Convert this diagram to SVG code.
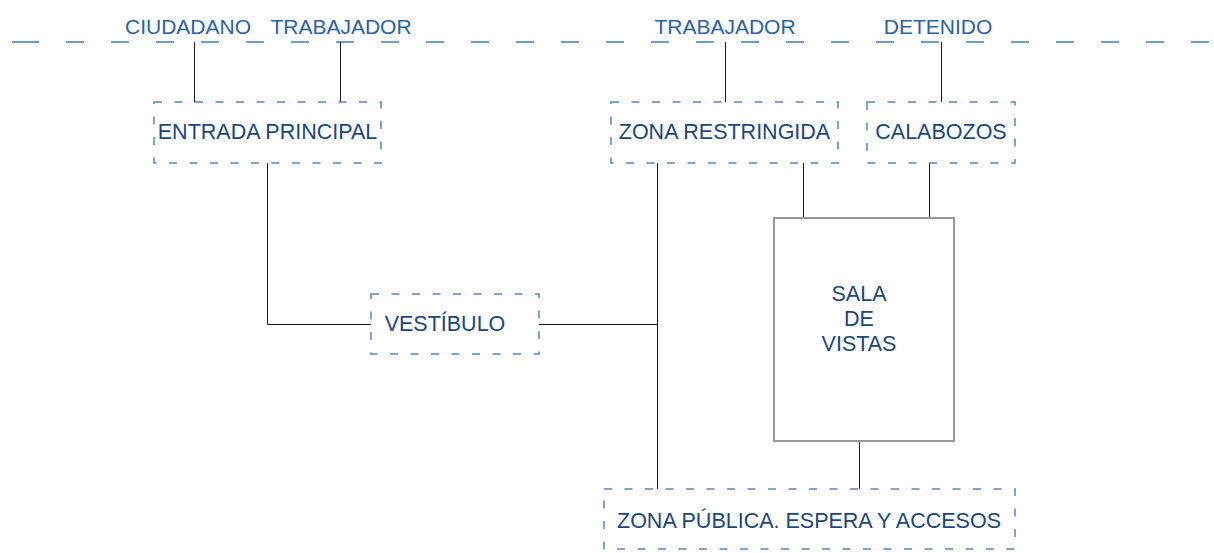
<svg xmlns="http://www.w3.org/2000/svg" width="1214" height="553" viewBox="0 0 1214 553">
<style>
.top{font-family:"Liberation Sans",Arial,sans-serif;font-size:21px;fill:#2a62a8;text-anchor:middle}
.lbl{font-family:"Liberation Sans",Arial,sans-serif;font-size:21.5px;fill:#1b4680;text-anchor:middle}
.dbox{fill:none;stroke:#5686c2;stroke-width:1.5;stroke-dasharray:8 12.5}
.conn{stroke:#1a1a1a;stroke-width:1;fill:none}
.guide{stroke:#6f9dd2;stroke-width:2;fill:none}
</style>
<rect width="1214" height="553" fill="#fff"/>
<g id="guide-line">
<line class="guide" x1="12" y1="42" x2="39" y2="42"/>
<line class="guide" x1="66" y1="42" x2="1214" y2="42" stroke-dasharray="18 27"/>
</g>
<g id="top-labels">
<text class="top" x="188" y="34">CIUDADANO</text>
<text class="top" x="341" y="34">TRABAJADOR</text>
<text class="top" x="725" y="34">TRABAJADOR</text>
<text class="top" x="938" y="34">DETENIDO</text>
</g>
<g id="connectors">
<line class="conn" x1="194.5" y1="42" x2="194.5" y2="102"/>
<line class="conn" x1="340.5" y1="42" x2="340.5" y2="102"/>
<line class="conn" x1="725.5" y1="42" x2="725.5" y2="102"/>
<line class="conn" x1="941.5" y1="42" x2="941.5" y2="102"/>
<polyline class="conn" points="267.5,163 267.5,324.5 371,324.5"/>
<line class="conn" x1="539" y1="324.5" x2="657.5" y2="324.5"/>
<line class="conn" x1="657.5" y1="163" x2="657.5" y2="489"/>
<line class="conn" x1="803.5" y1="163" x2="803.5" y2="218"/>
<line class="conn" x1="929.5" y1="163" x2="929.5" y2="218"/>
<line class="conn" x1="859.5" y1="441" x2="859.5" y2="489"/>
</g>
<g id="entrada">
<rect class="dbox" x="154" y="102" width="227" height="61"/>
<text class="lbl" x="267.5" y="139">ENTRADA PRINCIPAL</text>
</g>
<g id="vestibulo">
<rect class="dbox" x="371" y="294" width="168" height="60"/>
<text class="lbl" x="445" y="331">VESTÍBULO</text>
</g>
<g id="restringida">
<rect class="dbox" x="611" y="102" width="227" height="61"/>
<text class="lbl" x="724.5" y="139">ZONA RESTRINGIDA</text>
</g>
<g id="calabozos">
<rect class="dbox" x="867" y="102" width="148" height="61"/>
<text class="lbl" x="941" y="139">CALABOZOS</text>
</g>
<g id="sala">
<rect x="774" y="218" width="180" height="223" fill="#fff" stroke="#999" stroke-width="2"/>
<text class="lbl" x="859" y="301">SALA</text>
<text class="lbl" x="859" y="326">DE</text>
<text class="lbl" x="859" y="351">VISTAS</text>
</g>
<g id="publica">
<rect class="dbox" x="604" y="489" width="411" height="60"/>
<text class="lbl" x="809" y="528">ZONA PÚBLICA. ESPERA Y ACCESOS</text>
</g>
</svg>
